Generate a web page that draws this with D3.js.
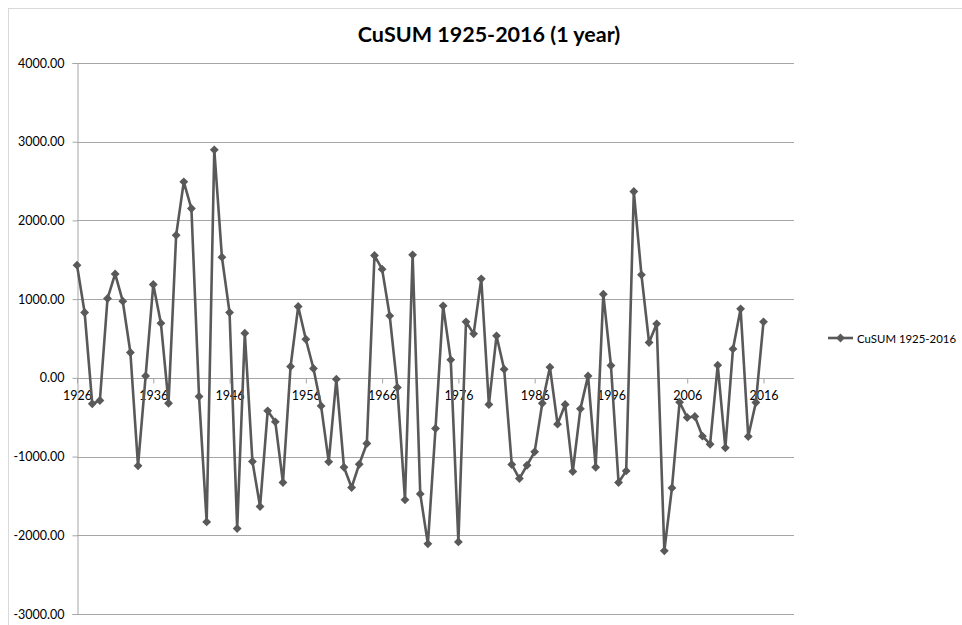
<!DOCTYPE html>
<html>
<head>
<meta charset="utf-8">
<script src="https://cdn.jsdelivr.net/npm/d3@7"></script>
<style>
  body { margin: 0; background: #fff; }
  text { font-family: "Lato", "Open Sans", sans-serif; fill: #000; }
</style>
</head>
<body>
<script>
// yearly CuSUM values, 1926 - 2016
let years = d3.range(1926, 2017);
let cusum = [
  1432, 830, -330, -288, 1008, 1321, 974, 322, -1118, 25,
  1186, 695, -322, 1813, 2490, 2151, -237, -1830, 2897, 1533,
  830, -1915, 568, -1063, -1635, -419, -559, -1330, 144, 906,
  491, 119, -356, -1067, -17, -1135, -1393, -1097, -834, 1554,
  1381, 788, -123, -1550, 1563, -1474, -2109, -644, 915, 229,
  -2084, 712, 559, 1258, -339, 534, 110, -1101, -1279, -1110,
  -940, -322, 136, -588, -339, -1190, -394, 25, -1135, 1063,
  157, -1330, -1182, 2367, 1309, 449, 686, -2198, -1398, -309,
  -504, -491, -741, -843, 161, -889, 368, 877, -745, -313,
  712
];
let yTicks = [4000, 3000, 2000, 1000, 0, -1000, -2000, -3000];
let xTicks = [1926, 1936, 1946, 1956, 1966, 1976, 1986, 1996, 2006, 2016];
let seriesName = "CuSUM 1925-2016";

let data = years.map((y, i) => ({ year: y, value: cusum[i] }));

let width = 962;
let height = 625;
let lineColor = "#595959";

let graph = d3
  .select("body")
  .append("svg")
  .attr("width", width)
  .attr("height", height);

// chart border
graph
  .append("rect")
  .attr("x", 8.5)
  .attr("y", 8.5)
  .attr("width", 1000)
  .attr("height", 1000)
  .attr("fill", "none")
  .attr("stroke", "#d9d9d9");

// category axis runs on past 2016 (empty slots up to 2020)
let x = d3.scaleLinear().domain([1926, 2020]).range([77, 794]);
let y = d3.scaleLinear().domain([-3000, 4000]).range([614, 63]);

// excel style labels, plain hyphen for negatives
let fmt = d => d.toFixed(2);

// gridlines
graph
  .append("g")
  .selectAll("line")
  .data(yTicks)
  .enter()
  .append("line")
  .attr("x1", 77)
  .attr("x2", 794)
  .attr("y1", d => Math.round(y(d)) + 0.5)
  .attr("y2", d => Math.round(y(d)) + 0.5)
  .attr("stroke", "#a6a6a6")
  .attr("stroke-width", 1);

// y axis
let yAxis = g =>
  g
    .attr("transform", `translate(77.5,0)`)
    .call(d3.axisLeft(y).tickValues(yTicks).tickSize(5).tickFormat(fmt))
    .call(g => g.selectAll("path, line").attr("stroke", "#a6a6a6"))
    .call(g => g.selectAll("text").attr("font-size", 12.5).attr("x", -13).attr("fill", "#000"));

// x axis sits on zero
let xAxis = g =>
  g
    .attr("transform", `translate(0,${Math.round(y(0)) + 0.5})`)
    .call(d3.axisBottom(x).tickValues(xTicks).tickSize(5).tickFormat(d => String(d)))
    .call(g => g.select(".domain").remove())
    .call(g => g.selectAll("line").attr("stroke", "#a6a6a6"))
    .call(g => g.selectAll("text").attr("font-size", 12.5).attr("y", 13).attr("fill", "#000"));

graph.append("g").call(yAxis);
graph.append("g").call(xAxis);

// series line
let line = d3
  .line()
  .x(d => x(d.year))
  .y(d => y(d.value));

graph
  .append("path")
  .datum(data)
  .attr("d", line)
  .attr("fill", "none")
  .attr("stroke", lineColor)
  .attr("stroke-width", 2.6)
  .attr("stroke-linejoin", "round");

let diamond = d3.symbol().type(d3.symbolDiamond2).size(50);

graph
  .append("g")
  .selectAll("path")
  .data(data)
  .enter()
  .append("path")
  .attr("d", diamond)
  .attr("transform", d => `translate(${x(d.year)},${y(d.value)})`)
  .attr("fill", lineColor);

// title
graph
  .append("text")
  .attr("x", 489)
  .attr("y", 42)
  .attr("text-anchor", "middle")
  .attr("font-size", 21.5)
  .attr("font-weight", "bold")
  .text("CuSUM 1925-2016 (1 year)");

// legend
let legend = graph.append("g").attr("transform", "translate(828,338)");
legend
  .append("line")
  .attr("x1", 0)
  .attr("x2", 25)
  .attr("stroke", lineColor)
  .attr("stroke-width", 2.6);
legend
  .append("path")
  .attr("d", diamond)
  .attr("transform", "translate(12.5,0)")
  .attr("fill", lineColor);
legend
  .append("text")
  .attr("x", 29)
  .attr("y", 4.5)
  .attr("font-size", 12)
  .attr("textLength", 99)
  .attr("lengthAdjust", "spacingAndGlyphs")
  .text(seriesName);
</script>
</body>
</html>
